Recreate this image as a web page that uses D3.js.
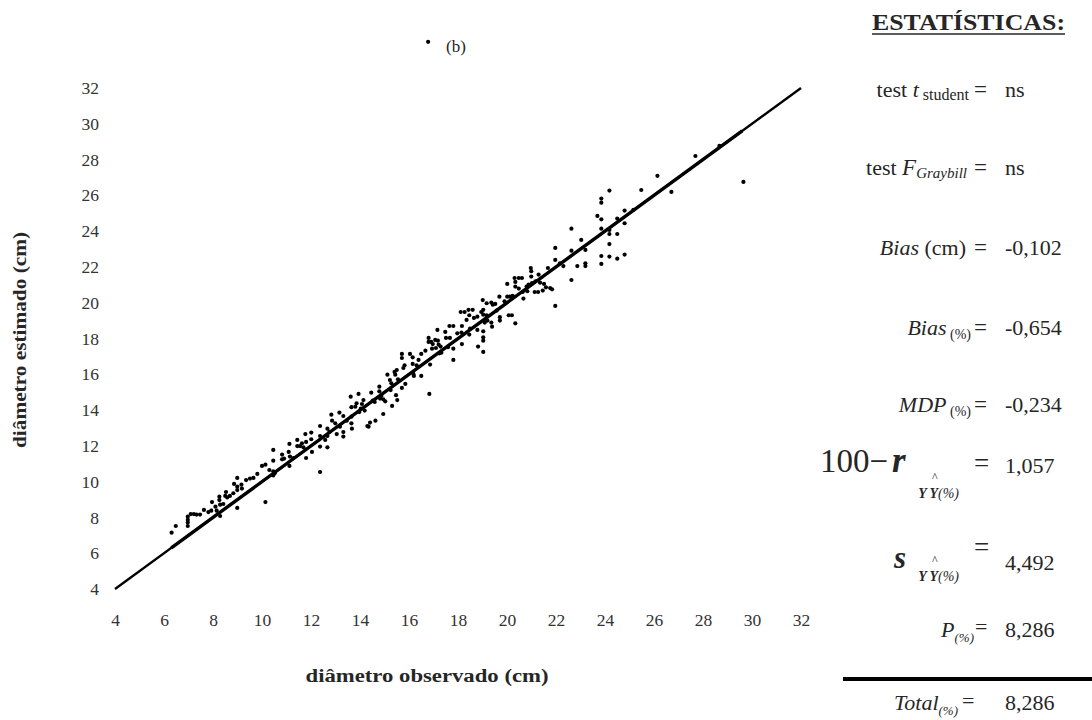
<!DOCTYPE html>
<html>
<head>
<meta charset="utf-8">
<script src="https://cdn.jsdelivr.net/npm/d3@7"></script>
<style>
  body { margin: 0; background: #fff; }
  svg { display: block; }
  text { font-family: "Liberation Serif", "DejaVu Serif", serif; }
</style>
</head>
<body>
<svg id="chart" width="1092" height="720"></svg>
<script>
// Axis tick values (cm)
const tickValues = [4, 6, 8, 10, 12, 14, 16, 18, 20, 22, 24, 26, 28, 30, 32];

// Observed vs. estimated diameter (cm): [observado, estimado]
const pontos6a13 = [
  [6.31,7.15],[6.48,7.52],[6.97,8.04],[6.97,7.86],[6.97,7.71],[6.97,7.52],[7.09,8.19],[7.22,8.19],
  [7.33,8.16],[7.47,8.16],[7.63,8.42],[7.81,8.30],[7.93,8.38],[7.96,8.86],[8.10,8.60],[8.15,8.38],
  [8.26,9.16],[8.26,8.97],[8.29,8.71],[8.29,8.08],[8.42,8.75],[8.50,9.20],[8.53,9.42],[8.58,9.12],
  [8.69,9.20],[8.83,9.35],[8.86,9.87],[8.99,10.21],[8.99,9.72],[8.99,9.53],[8.99,8.53],[9.16,9.83],
  [9.18,9.61],[9.35,10.09],[9.51,10.17],[9.65,10.21],[9.81,10.43],[10.00,10.88],[10.14,10.95],[10.14,8.86],
  [10.30,10.65],[10.46,11.77],[10.46,11.17],[10.46,10.58],[10.46,10.35],[10.52,10.47],[10.82,11.51],[10.82,11.25],
  [10.90,11.29],[11.09,11.66],[11.12,12.11],[11.14,11.40],[11.12,10.88],[11.28,11.32],[11.44,12.33],[11.44,11.99],
  [11.55,11.99],[11.63,12.14],[11.69,11.92],[11.77,12.66],[11.80,12.22],[11.80,11.32],[12.01,12.74],[12.01,12.37],
  [12.04,11.66],[12.37,13.11],[12.37,12.55],[12.37,11.96],[12.37,10.54],[12.67,12.96],[12.67,12.55],[12.67,11.92],
  [12.58,12.33],[12.75,12.78]
];

const pontos13a19 = [
  [12.83,13.74],[12.86,13.41],[12.99,13.26],[13.05,12.66],[13.16,13.86],[13.18,13.07],[13.32,13.67],[13.32,12.77],
  [13.32,12.52],[13.46,13.41],[13.62,14.75],[13.65,14.16],[13.65,13.63],[13.65,13.26],[13.67,12.96],[13.81,14.19],
  [13.86,14.38],[13.94,14.90],[13.97,13.89],[14.03,14.08],[14.08,14.34],[14.14,14.56],[14.19,13.97],[14.30,13.11],
  [14.35,13.07],[14.41,13.30],[14.46,14.97],[14.52,14.53],[14.60,14.45],[14.63,13.41],[14.79,15.31],[14.79,15.05],
  [14.82,14.64],[14.87,14.79],[14.95,13.78],[14.95,14.60],[15.03,14.49],[15.12,15.98],[15.22,15.68],[15.25,15.12],
  [15.28,15.50],[15.31,14.23],[15.41,16.13],[15.44,15.98],[15.47,14.83],[15.50,16.24],[15.52,14.56],[15.55,15.72],
  [15.71,17.14],[15.71,16.91],[15.71,15.24],[15.77,16.35],[15.82,16.50],[15.85,15.46],[16.04,17.14],[16.15,16.95],
  [16.15,16.58],[16.18,16.02],[16.20,15.91],[16.31,16.50],[16.39,16.80],[16.50,15.91],[16.50,17.14],[16.67,17.32],
  [16.80,18.03],[16.80,17.81],[16.83,14.90],[16.86,16.54],[16.91,17.81],[16.94,17.43],[16.97,17.69],[17.07,17.92],
  [17.10,17.47],[17.16,18.48],[17.18,17.88],[17.21,17.66],[17.24,17.17],[17.29,17.55],[17.32,17.21],[17.48,18.37],
  [17.51,18.03],[17.59,17.51],[17.65,18.70],[17.67,18.03],[17.81,18.70],[17.81,17.43],[17.81,16.80],[17.97,18.29],
  [18.11,19.48],[18.14,18.33],[18.16,18.70],[18.16,17.69],[18.27,19.48],[18.35,19.04],[18.43,19.60],[18.46,19.30],
  [18.46,18.22],[18.49,18.55],[18.60,19.60],[18.65,19.15],[18.79,19.22],[18.79,18.48],[18.82,17.55],[18.95,19.48],
  [19.01,20.15],[19.03,19.60],[19.03,19.33],[19.03,18.40],[19.03,18.07],[19.03,17.88],[19.03,17.25],[19.09,18.89],
  [19.17,19.97],[19.17,19.30],[19.20,19.00]
];

const pontos19a30 = [
  [19.36,20.01],[19.36,18.89],[19.39,18.66],[19.42,19.89],[19.52,19.93],[19.58,19.56],[19.69,20.34],[19.71,19.19],
  [19.71,19.00],[19.90,20.08],[20.01,21.05],[20.01,20.34],[20.07,19.30],[20.12,20.34],[20.20,19.30],[20.23,20.38],
  [20.31,21.38],[20.34,21.16],[20.34,20.90],[20.34,18.85],[20.48,21.38],[20.48,20.79],[20.61,21.38],[20.64,20.60],
  [20.67,20.23],[20.80,20.90],[20.83,20.64],[20.88,21.01],[20.97,21.94],[20.99,21.76],[20.99,21.46],[21.02,21.09],
  [21.13,20.60],[21.16,21.20],[21.27,20.60],[21.29,21.57],[21.35,21.12],[21.46,20.68],[21.51,21.05],[21.59,20.86],
  [21.67,21.94],[21.76,20.82],[21.84,20.75],[21.97,23.06],[21.97,22.39],[21.97,19.82],[22.16,22.20],[22.30,22.05],
  [22.63,24.14],[22.63,22.91],[22.63,21.27],[22.87,22.05],[23.03,23.51],[23.20,22.95],[23.20,22.20],[23.20,22.05],
  [23.69,24.85],[23.85,25.82],[23.85,25.59],[23.85,24.66],[23.85,24.14],[23.85,22.61],[23.85,22.17],[24.18,26.27],
  [24.18,24.07],[24.18,23.84],[24.18,23.28],[24.18,22.58],[24.50,24.70],[24.50,23.84],[24.50,22.46],[24.80,25.15],
  [24.80,24.44],[24.80,22.69],[25.16,25.19],[25.48,26.30],[26.14,27.09],[26.71,26.19],[27.69,28.20],[28.67,28.76],
  [29.65,26.75]
];

const pontoAvulso = [[16.78, 34.58]];

// 1:1 reference line and the span covered by the fitted estimates
const linhaIgualdade = [4, 32];
const faixaAjuste = [6.3, 29.6];

// Precision statistics
const estatValores = ["ns", "ns", "-0,102", "-0,654", "-0,234", "1,057", "4,492", "8,286", "8,286"];

const svg = d3.select("#chart");
const ink = "#262626";

const x = d3.scaleLinear().domain([4, 32]).range([115, 801]);
const y = d3.scaleLinear().domain([4, 32]).range([589, 88]);

// Axes: labels only, no domain line or tick marks
const gx = svg.append("g")
  .attr("transform", "translate(0,589)")
  .call(d3.axisBottom(x).tickValues(tickValues).tickSize(0).tickPadding(25).tickFormat(d3.format("d")));
const gy = svg.append("g")
  .attr("transform", "translate(115,0)")
  .call(d3.axisLeft(y).tickValues(tickValues).tickSize(0).tickPadding(16).tickFormat(d3.format("d")));
[gx, gy].forEach(g => {
  g.select(".domain").remove();
  g.selectAll("text")
    .attr("font-size", 17.5)
    .attr("fill", "#333");
});

// 1:1 line and fitted span
svg.append("line")
  .attr("x1", x(linhaIgualdade[0])).attr("y1", y(linhaIgualdade[0]))
  .attr("x2", x(linhaIgualdade[1])).attr("y2", y(linhaIgualdade[1]))
  .attr("stroke", "#000").attr("stroke-width", 2.3);
svg.append("line")
  .attr("x1", x(faixaAjuste[0])).attr("y1", y(faixaAjuste[0]))
  .attr("x2", x(faixaAjuste[1])).attr("y2", y(faixaAjuste[1]))
  .attr("stroke", "#000").attr("stroke-width", 3.4);

// Scatter points
const todos = pontos6a13.concat(pontos13a19, pontos19a30, pontoAvulso);
svg.append("g").selectAll("circle")
  .data(todos)
  .join("circle")
  .attr("cx", d => x(d[0]))
  .attr("cy", d => y(d[1]))
  .attr("r", 2.1)
  .attr("fill", "#000");

// Panel label
svg.append("text").attr("x", 446).attr("y", 52)
  .attr("font-size", 17).attr("fill", ink).text("(b)");

// Axis titles
svg.append("text")
  .attr("x", 427).attr("y", 682)
  .attr("text-anchor", "middle")
  .attr("font-size", 18.5).attr("font-weight", "bold").attr("fill", ink)
  .attr("textLength", 243).attr("lengthAdjust", "spacingAndGlyphs")
  .text("diâmetro observado (cm)");
svg.append("text")
  .attr("transform", "translate(26,340) rotate(-90)")
  .attr("text-anchor", "middle")
  .attr("font-size", 18.5).attr("font-weight", "bold").attr("fill", ink)
  .attr("textLength", 216).attr("lengthAdjust", "spacingAndGlyphs")
  .text("diâmetro estimado (cm)");

// ---- Statistics panel ----
const eqX = 974;       // "=" sign
const valX = 1005;     // values

// A label made of runs, right-aligned at xEnd; each run: [text, size, italic, bold, dy]
function label(yb, runs, xEnd) {
  const t = svg.append("text")
    .attr("x", xEnd).attr("y", yb)
    .attr("text-anchor", "end")
    .attr("fill", ink);
  runs.forEach(([s, size, it, bd, dy]) => {
    const ts = t.append("tspan").attr("font-size", size).text(s);
    if (it) ts.attr("font-style", "italic");
    if (bd) ts.attr("font-weight", "bold");
    if (dy) ts.attr("dy", dy);
  });
  return t;
}
function plain(px, yb, s, size, o = {}) {
  const t = svg.append("text").attr("x", px).attr("y", yb)
    .attr("font-size", size).attr("fill", ink)
    .attr("text-anchor", o.anchor || "start").text(s);
  if (o.italic) t.attr("font-style", "italic");
  if (o.bold) t.attr("font-weight", "bold");
  return t;
}

// Title
svg.append("text").attr("x", 872).attr("y", 30)
  .attr("font-size", 24).attr("font-weight", "bold").attr("fill", ink)
  .attr("textLength", 193).attr("lengthAdjust", "spacingAndGlyphs")
  .text("ESTATÍSTICAS:");
svg.append("line").attr("x1", 872).attr("x2", 1065).attr("y1", 34).attr("y2", 34)
  .attr("stroke", ink).attr("stroke-width", 1.6);

const rowsY = [97, 175, 255, 335, 412];
label(rowsY[0], [["test ", 22], ["t", 22, true], [" student", 16, false, false, 3]], 969);
label(rowsY[1], [["test ", 22], ["F", 23, true], ["Graybill", 15, true, false, 3]], 967);
label(rowsY[2], [["Bias", 22, true], [" (cm)", 22]], 966);
label(rowsY[3], [["Bias", 22, true], [" (%)", 14, false, false, 4]], 971);
label(rowsY[4], [["MDP", 22, true], [" (%)", 14, false, false, 4]], 971);
rowsY.forEach((yb, i) => {
  plain(eqX, yb, "=", 23);
  plain(valX, yb, estatValores[i], 22);
});

// 100 − r
plain(820, 472, "100−", 33);
plain(892, 472, "r", 35, { italic: true, bold: true });
// s
plain(894, 568, "s", 31, { italic: true, bold: true });

// subscript Y Ŷ(%) with a detached hat over the second Y
function subYY(yb, hatY) {
  const t = svg.append("text").attr("x", 959).attr("y", yb)
    .attr("text-anchor", "end").attr("fill", ink).attr("font-size", 14)
    .attr("font-style", "italic");
  t.append("tspan").attr("font-weight", "bold").text("Y Y");
  t.append("tspan").text("(%)");
  const node = t.node();
  const p = node.getStartPositionOfChar(2);
  const w = node.getSubStringLength(2, 1);
  svg.append("text").attr("x", p.x + w / 2 + 1).attr("y", hatY)
    .attr("text-anchor", "middle").attr("font-size", 12).attr("fill", ink).text("^");
}
subYY(498, 481);
subYY(581, 564);
plain(eqX, 472, "=", 27);
plain(valX, 473, estatValores[5], 22);
plain(eqX, 556, "=", 27);
plain(valX, 570, estatValores[6], 22);

// P (%)
label(637, [["P", 22, true], ["(%)", 13, true, false, 5]], 974);
plain(eqX + 1, 634, "=", 22);
plain(valX, 637, estatValores[7], 22);

// Total rule
svg.append("line").attr("x1", 843).attr("x2", 1092).attr("y1", 679).attr("y2", 679)
  .attr("stroke", "#000").attr("stroke-width", 4);

// Total (%)
label(710, [["Total", 22, true], ["(%)", 13, true, false, 5]], 958);
plain(962, 708, "=", 22);
plain(valX, 710, estatValores[8], 22);
</script>
</body>
</html>
